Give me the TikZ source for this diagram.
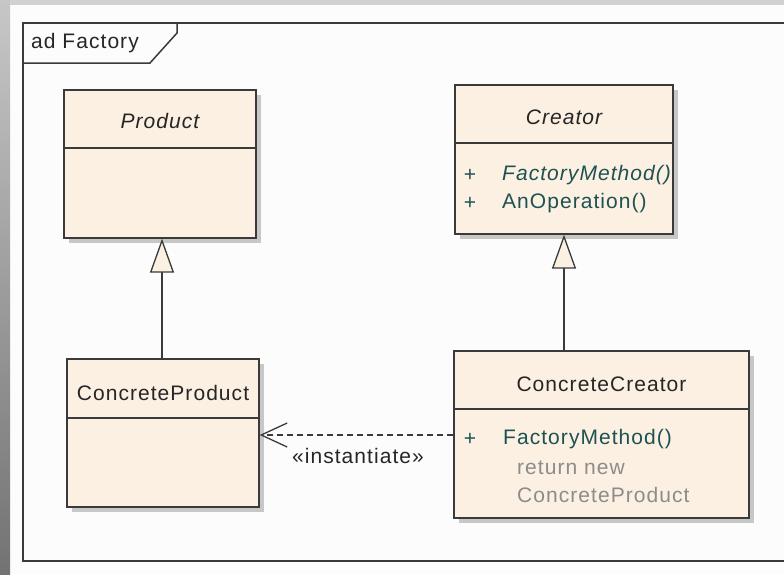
\documentclass[tikz,border=0pt]{standalone}
\usepackage{fontspec}
\setmainfont[LetterSpace=5]{Liberation Sans}
\usetikzlibrary{arrows.meta,shadows}
\definecolor{boxfill}{HTML}{FBF0E2}
\definecolor{methtext}{HTML}{1E5252}
\definecolor{notetext}{HTML}{8C8C8C}
\definecolor{edgecol}{HTML}{3A3A3A}
\tikzset{
  classbox/.style={draw=edgecol, line width=1.3pt, fill=boxfill, inner sep=0pt,
    drop shadow={shadow xshift=5pt, shadow yshift=-5pt, fill=black!22, opacity=1}},
  divider/.style={draw=edgecol, line width=1.3pt},
  frameline/.style={draw=edgecol, line width=1.5pt},
  lbl/.style={inner sep=0pt, font=\fontsize{21}{25}\selectfont, text=black!85},
  meth/.style={lbl, text=methtext},
  note/.style={lbl, text=notetext},
  inherit/.style={draw=edgecol, line width=1.3pt, -{Triangle[open, length=34pt, width=24pt, fill=boxfill]}},
  depend/.style={draw=edgecol, line width=1.3pt, dash pattern=on 6pt off 4pt, -{Straight Barb[length=26pt, width=24pt, line width=1.3pt]}}
}
\begin{document}
\begin{tikzpicture}[x=1pt,y=-1pt]
\useasboundingbox (0,0) rectangle (784,574);
\fill[black!1] (0,0) rectangle (784,574);
\shade[top color=black!22, bottom color=black!55] (0,0) rectangle (10,574);
\fill[black!18] (10,0) rectangle (784,5);
% frame
\draw[frameline] (790,23) -- (23,23) -- (23,561) -- (790,561);
\draw[frameline] (23,63) -- (150,63) -- (177,33) -- (177,23);
\node[lbl, anchor=west] (title) at (31,43) {ad Factory};
% classes
\node[classbox, minimum width=192pt, minimum height=148pt] (product) at (160,164) {};
\draw[divider] (product.west |- 0,148) -- (product.east |- 0,148);
\node[lbl, font=\fontsize{21}{25}\selectfont\itshape] (productname) at (160,121) {Product};

\node[classbox, minimum width=218pt, minimum height=149pt] (creator) at (564,159.5) {};
\draw[divider] (creator.west |- 0,143) -- (creator.east |- 0,143);
\node[lbl, font=\fontsize{21}{25}\selectfont\itshape] (creatorname) at (564,117) {Creator};
\node[meth] (cplus1) at (470,175) {+};
\node[meth, anchor=west, font=\fontsize{21}{25}\selectfont\itshape] (cfm) at (502,175) {FactoryMethod()};
\node[meth] (cplus2) at (470,203) {+};
\node[meth, anchor=west] (cop) at (502,203) {AnOperation()};

\node[classbox, minimum width=192pt, minimum height=148pt] (cprod) at (163,433) {};
\draw[divider] (cprod.west |- 0,418) -- (cprod.east |- 0,418);
\node[lbl] (cprodname) at (163,393) {ConcreteProduct};

\node[classbox, minimum width=295pt, minimum height=167pt] (ccreator) at (601.5,434.5) {};
\draw[divider] (ccreator.west |- 0,409) -- (ccreator.east |- 0,409);
\node[lbl] (ccreatorname) at (601.5,384) {ConcreteCreator};
\node[meth] (ccplus) at (470,439) {+};
\node[meth, anchor=west] (ccfm) at (503,439) {FactoryMethod()};
\node[note, anchor=west] (ret1) at (517,468) {return new};
\node[note, anchor=west] (ret2) at (517,495) {ConcreteProduct};

% connectors
\draw[inherit] (cprod.north -| 162,0) -- (product.south -| 162,0);
\draw[inherit] (ccreator.north -| creator.south) -- (creator.south);
\draw[depend] (ccreator.west |- 0,435) -- (cprod.east |- 0,435);
\node[lbl] (inst) at (358,456) {«instantiate»};
\end{tikzpicture}
\end{document}
